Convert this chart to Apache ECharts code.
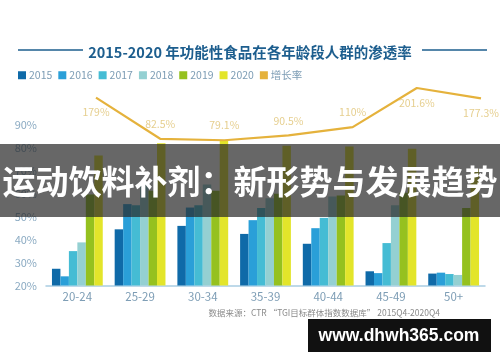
<!DOCTYPE html>
<html><head><meta charset="utf-8">
<script src="https://cdn.jsdelivr.net/npm/echarts@6/dist/echarts.min.js"></script>
<style>html,body{margin:0;padding:0;background:#fff}#c{width:500px;height:362px}</style>
</head><body><div id="c"></div>
<script>
const categories = ['20-24','25-29','30-34','35-39','40-44','45-49','50+'];
const years = ['2015','2016','2017','2018','2019','2020'];
const v2015 = [27.3, 44.5, 46.0, 42.5, 38.2, 26.2, 25.2];
const v2016 = [24.0, 55.5, 54.0, 48.5, 45.0, 25.4, 25.6];
const v2017 = [35.0, 55.0, 55.0, 53.8, 49.5, 38.5, 25.0];
const v2018 = [38.8, 64.0, 64.0, 58.0, 58.8, 55.0, 24.6];
const v2019 = [59.7, 61.3, 61.3, 60.0, 59.2, 60.5, 53.8];
const v2020 = [76.7, 82.0, 83.0, 81.0, 80.6, 79.6, 70.8];
const growth = [179, 82.5, 79.1, 90.5, 110, 201.6, 177.3];
const growthName = '增长率';
const yTicks = [20, 30, 40, 50, 60, 70, 80, 90];
const titleText = '2015-2020 年功能性食品在各年龄段人群的渗透率';
const sourceText = '数据来源：CTR “TGI目标群体指数数据库” 2015Q4-2020Q4';
const bannerText = '运动饮料补剂：新形势与发展趋势';
const watermarkText = 'www.dhwh365.com';

const barValues = [v2015, v2016, v2017, v2018, v2019, v2020];
const colors = ['#0f6aa8', '#2a9fd8', '#45bcd4', '#94d0d2', '#95c11f', '#e3e52a'];
const lineColor = '#e5b23c';
const FONT = '"Noto Sans CJK SC", "Open Sans", sans-serif';
const labelBelow = [0, 5, 6];

const chart = echarts.init(document.getElementById('c'), null, {renderer: 'canvas'});
const series = years.map((y, i) => ({
  name: y, type: 'bar', xAxisIndex: 0, yAxisIndex: 0,
  data: barValues[i], barGap: '0%', barCategoryGap: '19%',
  itemStyle: {color: colors[i]}, silent: true
}));
series.push({
  name: growthName, type: 'line', xAxisIndex: 1, yAxisIndex: 1,
  data: growth.map((v, i) => ({
    value: v,
    label: {show: true, position: labelBelow.includes(i) ? 'bottom' : 'top', distance: 9}
  })),
  symbol: 'circle', symbolSize: 1, showSymbol: true,
  lineStyle: {color: lineColor, width: 2.2}, itemStyle: {color: lineColor, opacity: 0},
  label: {show: true, formatter: p => p.value + '%', color: '#e6cf8f', fontSize: 10.5, fontFamily: FONT, opacity: 1},
  labelLayout: {hideOverlap: false},
  silent: true, z: 5
});

chart.setOption({
  animation: false,
  backgroundColor: '#fff',
  title: {
    text: titleText, left: 'center', top: 40,
    textStyle: {fontFamily: FONT, fontSize: 14.5, fontWeight: 'bold', color: '#1d5e8e'}
  },
  legend: {
    left: 18, top: 70, icon: 'rect', itemWidth: 8, itemHeight: 8, itemGap: 6, padding: 0,
    data: [...years, {name: growthName, icon: 'rect', itemStyle: {color: lineColor, opacity: 1}}],
    textStyle: {fontFamily: FONT, fontSize: 10.5, color: '#7d9db5', padding: [0, 0, 0, -2]}
  },
  grid: [
    {left: 46, right: 15, top: 125, bottom: 76.5},
    {left: 96, right: 19, top: 46, height: 128}
  ],
  xAxis: [
    {type: 'category', gridIndex: 0, data: categories,
     axisLine: {lineStyle: {color: '#a9cde2', width: 1.5}}, axisTick: {show: false},
     axisLabel: {color: '#7d9db5', fontSize: 11.5, fontFamily: FONT, margin: 5}},
    {type: 'category', gridIndex: 1, data: categories, boundaryGap: false, show: false}
  ],
  yAxis: [
    {type: 'value', gridIndex: 0, min: 20, max: 90, interval: 10,
     axisLine: {show: false}, axisTick: {show: false}, splitLine: {show: false},
     axisLabel: {formatter: v => yTicks.includes(v) ? v + '%' : '', color: '#8aaac2', fontSize: 11, fontFamily: FONT, margin: 9}},
    {type: 'value', gridIndex: 1, min: 0, max: 300, show: false, splitLine: {show: false}}
  ],
  series: series,
  graphic: [
    {type: 'line', shape: {x1: 18, y1: 50, x2: 83, y2: 50}, style: {stroke: '#1d5e8e', lineWidth: 1.5}},
    {type: 'line', shape: {x1: 422, y1: 50, x2: 487, y2: 50}, style: {stroke: '#1d5e8e', lineWidth: 1.5}},
    {type: 'text', x: 440, y: 313, style: {text: sourceText, fill: '#8a8a8a', fontSize: 8.5, fontFamily: FONT, textAlign: 'right', textVerticalAlign: 'middle'}},
    {type: 'rect', shape: {x: 0, y: 144, width: 500, height: 73}, style: {fill: 'rgba(38,38,38,0.7)'}, z: 100},
    {type: 'text', x: 250, y: 181, z: 101, style: {text: bannerText, fill: '#fff', fontSize: 33, fontWeight: 'bold', fontFamily: FONT, textAlign: 'center', textVerticalAlign: 'middle'}},
    {type: 'rect', shape: {x: 308, y: 319, width: 183, height: 33}, style: {fill: '#111'}, z: 100},
    {type: 'text', x: 399, y: 336, z: 101, style: {text: watermarkText, fill: '#fff', fontSize: 17.5, fontWeight: 'bold', fontFamily: '"Liberation Sans", Arial, sans-serif', textAlign: 'center', textVerticalAlign: 'middle'}}
  ]
});
</script></body></html>
